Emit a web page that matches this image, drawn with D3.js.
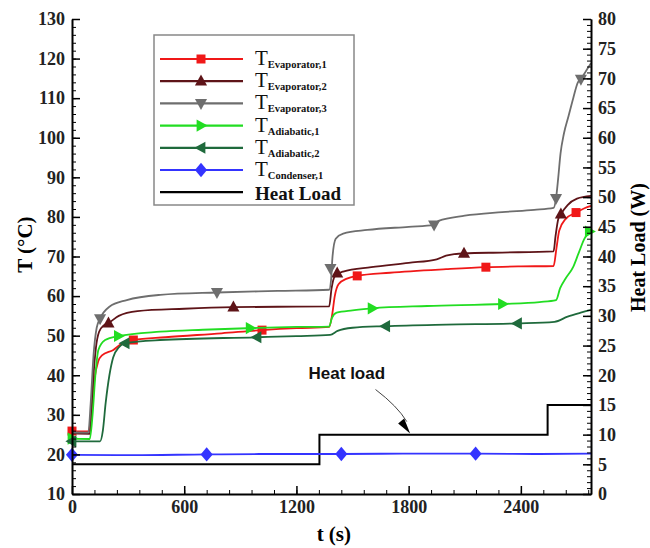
<!DOCTYPE html>
<html>
<head>
<meta charset="utf-8">
<script src="https://cdn.jsdelivr.net/npm/d3@7"></script>
<style>
  body { margin: 0; background: #fff; }
  .axis path, .axis line { stroke: #000; }
</style>
</head>
<body>
<script>
// Values: [time (s), temperature (C)]
const evap1 = [[0,25.9],[90,25.8],[105,32],[120,39],[140,43.5],[160,45],[221,46.4],[260,47.8],[293,48.6],[328,48.9],[500,49.6],[800,50.6],[1016,51.4],[1200,51.9],[1375,52.2],[1390,55],[1405,60],[1425,63],[1470,64.4],[1525,65.1],[1700,65.9],[2000,66.8],[2213,67.3],[2400,67.5],[2575,67.6],[2590,72],[2605,76.5],[2640,79.5],[2695,81.1],[2740,82.2],[2775,82.8]];
const evap2 = [[0,25.3],[95,25.2],[105,31],[115,40],[128,47],[145,51],[170,52.6],[195,53.2],[250,55],[350,56.2],[600,56.8],[863,57.2],[1100,57.3],[1375,57.4],[1388,62],[1405,65],[1450,66.2],[1600,67.3],[1800,68.4],[1950,69.3],[2000,70.2],[2096,70.8],[2300,71],[2575,71.3],[2585,75],[2600,79.5],[2614,80.7],[2650,83],[2700,84.6],[2775,85.3]];
const evap3 = [[0,25.6],[87,25.5],[100,33],[115,45],[132,52],[150,54.3],[200,57.3],[293,59],[471,60.3],[775,60.9],[1100,61.3],[1375,61.6],[1385,64],[1393,70],[1410,74.5],[1450,75.8],[1579,76.7],[1800,77.5],[1936,78],[1960,79],[2100,80.3],[2300,81.2],[2471,81.8],[2575,82.3],[2588,84.7],[2600,90],[2612,96],[2630,101],[2655,105.5],[2680,110],[2705,114],[2721,114.8],[2750,117],[2775,118.8]];
const adia1 = [[0,24],[95,23.9],[110,30],[125,40],[141,46.4],[177,48.9],[248,49.9],[471,51],[700,51.5],[953,51.9],[1200,52.2],[1375,52.3],[1390,54.5],[1415,55.8],[1500,56.4],[1605,56.9],[1900,57.5],[2302,58],[2500,58.5],[2588,59],[2610,62],[2640,64.5],[2680,67.4],[2710,71],[2740,74.5],[2766,76.3],[2775,77]];
const adia2 = [[0,23.3],[150,23.3],[165,26],[180,33],[200,40],[220,44.5],[250,47],[284,48.1],[471,48.9],[989,49.6],[1200,49.9],[1380,50.2],[1420,51.2],[1500,52],[1677,52.4],[2000,52.8],[2382,53.1],[2580,53.5],[2650,54.8],[2720,55.8],[2775,56.5]];
const cond1 = [[0,19.9],[300,19.8],[720,20],[1000,20.1],[1440,20.1],[1800,20.2],[2158,20.2],[2500,20.1],[2775,20.2]];
// heat load steps [time (s), W]
const heatLoad = [[0,5],[1323,10],[2543,15],[2775,15]];

// marker positions [time, value]
const evap1Marks = [[0,25.9],[328,48.9],[1016,51.4],[1525,65.1],[2213,67.3],[2695,81.1]];
const evap2Marks = [[195,53.2],[863,57.2],[1418,65.8],[2096,70.8],[2614,80.7]];
const evap3Marks = [[150,54.3],[775,60.9],[1382,67],[1936,78],[2588,84.7],[2721,114.8]];
const adia1Marks = [[0,24],[248,49.9],[953,51.9],[1605,56.9],[2302,58],[2766,76.3]];
const adia2Marks = [[0,23.3],[284,48.1],[989,49.6],[1677,52.4],[2382,53.1]];
const cond1Marks = [[0,19.9],[720,20],[1440,20.1],[2158,20.2]];

const xTicks = [0, 600, 1200, 1800, 2400];
const yTicks = [10, 20, 30, 40, 50, 60, 70, 80, 90, 100, 110, 120, 130];
const y2Ticks = [0, 5, 10, 15, 20, 25, 30, 35, 40, 45, 50, 55, 60, 65, 70, 75, 80];

const series = [
  { name: "Evaporator,1", data: evap1, marks: evap1Marks, color: "#f01818", sym: "square" },
  { name: "Evaporator,2", data: evap2, marks: evap2Marks, color: "#5e1418", sym: "up" },
  { name: "Evaporator,3", data: evap3, marks: evap3Marks, color: "#6e6e6e", sym: "down" },
  { name: "Adiabatic,1", data: adia1, marks: adia1Marks, color: "#22dd22", sym: "right" },
  { name: "Adiabatic,2", data: adia2, marks: adia2Marks, color: "#1f6a3c", sym: "left" },
  { name: "Condenser,1", data: cond1, marks: cond1Marks, color: "#3434ff", sym: "diamond" }
];

const SERIF = "Liberation Serif";

var margin = { top: 19, right: 59, bottom: 54, left: 72 },
    width = 650 - margin.left - margin.right,
    height = 548 - margin.top - margin.bottom;

var xScale = d3.scaleLinear().domain([0, 2775]).range([0, width]);
var yScale = d3.scaleLinear().domain([10, 130]).range([height, 0]);
var y2Scale = d3.scaleLinear().domain([0, 80]).range([height, 0]);

var svg = d3.select("body").append("svg")
    .attr("width", 650)
    .attr("height", 548);
var g = svg.append("g")
    .attr("transform", "translate(" + margin.left + "," + margin.top + ")");

// marker shapes
function markerPath(sym, s) {
  if (sym == "square") return `M${-s/2},${-s/2}h${s}v${s}h${-s}Z`;
  if (sym == "up") return `M0,${-s*0.6}L${s*0.55},${s*0.4}L${-s*0.55},${s*0.4}Z`;
  if (sym == "down") return `M0,${s*0.6}L${s*0.55},${-s*0.4}L${-s*0.55},${-s*0.4}Z`;
  if (sym == "right") return `M${s*0.6},0L${-s*0.4},${s*0.55}L${-s*0.4},${-s*0.55}Z`;
  if (sym == "left") return `M${-s*0.6},0L${s*0.4},${s*0.55}L${s*0.4},${-s*0.55}Z`;
  if (sym == "diamond") return `M0,${-s*0.65}L${s*0.55},0L0,${s*0.65}L${-s*0.55},0Z`;
}

var line = d3.line()
    .curve(d3.curveMonotoneX)
    .x(d => xScale(d[0]))
    .y(d => yScale(d[1]));

// heat load step line
var stepLine = d3.line()
    .curve(d3.curveStepAfter)
    .x(d => xScale(d[0]))
    .y(d => y2Scale(d[1]));

g.append("path")
    .datum(heatLoad)
    .attr("fill", "none")
    .attr("stroke", "#000")
    .attr("stroke-width", 2)
    .attr("d", stepLine);

series.forEach(function (s) {
  g.append("path")
      .datum(s.data)
      .attr("fill", "none")
      .attr("stroke", s.color)
      .attr("stroke-width", 1.8)
      .attr("d", line);
  g.selectAll(null)
      .data(s.marks)
      .enter()
      .append("path")
      .attr("transform", d => `translate(${xScale(d[0])},${yScale(d[1])})`)
      .attr("d", markerPath(s.sym, s.sym == "square" ? 9 : 11))
      .attr("fill", s.color);
});

// axes: ticks point into the plot
function styleAxis(sel) {
  sel.attr("font-family", SERIF).attr("font-size", 18).attr("font-weight", "bold");
  sel.select(".domain").attr("stroke-width", 2);
  sel.selectAll(".tick line").attr("stroke-width", 1.5);
  sel.selectAll(".tick text").attr("fill", "#222");
}

// minor ticks
g.append("g").attr("class", "axis")
    .attr("transform", "translate(0," + height + ")")
    .call(d3.axisBottom(xScale).tickValues(d3.range(0, 2775, 120)).tickSize(-4).tickSizeOuter(0).tickFormat(""));
g.append("g").attr("class", "axis")
    .call(d3.axisLeft(yScale).tickValues(d3.range(10, 131, 2)).tickSize(-4).tickSizeOuter(0).tickFormat(""));
g.append("g").attr("class", "axis")
    .attr("transform", "translate(" + width + ",0)")
    .call(d3.axisRight(y2Scale).tickValues(d3.range(0, 81, 1)).tickSize(-4).tickSizeOuter(0).tickFormat(""));

// major ticks
g.append("g").attr("class", "axis")
    .attr("transform", "translate(0," + height + ")")
    .call(d3.axisBottom(xScale).tickValues(xTicks).tickSize(-8).tickSizeOuter(0).tickPadding(6).tickFormat(d3.format("d")))
    .call(styleAxis);
g.append("g").attr("class", "axis")
    .call(d3.axisLeft(yScale).tickValues(yTicks).tickSize(-8).tickSizeOuter(0).tickPadding(7).tickFormat(d3.format("d")))
    .call(styleAxis);
g.append("g").attr("class", "axis")
    .attr("transform", "translate(" + width + ",0)")
    .call(d3.axisRight(y2Scale).tickValues(y2Ticks).tickSize(-8).tickSizeOuter(0).tickPadding(7).tickFormat(d3.format("d")))
    .call(styleAxis);

// axis titles
svg.append("text")
    .text("t (s)")
    .attr("x", margin.left + xScale(1400))
    .attr("y", 541)
    .attr("text-anchor", "middle")
    .attr("font-family", SERIF)
    .attr("font-weight", "bold")
    .attr("font-size", 21);

svg.append("text")
    .text("T (°C)")
    .attr("transform", "translate(32," + (margin.top + yScale(73)) + ") rotate(-90)")
    .attr("text-anchor", "middle")
    .attr("font-family", SERIF)
    .attr("font-weight", "bold")
    .attr("font-size", 21);

svg.append("text")
    .text("Heat Load (W)")
    .attr("transform", "translate(645," + (margin.top + y2Scale(41.5)) + ") rotate(-90)")
    .attr("text-anchor", "middle")
    .attr("font-family", SERIF)
    .attr("font-weight", "bold")
    .attr("font-size", 20);

// "Heat load" callout
g.append("text")
    .text("Heat load")
    .attr("x", xScale(1265))
    .attr("y", y2Scale(19.3))
    .attr("font-family", "Liberation Sans, Arial, sans-serif")
    .attr("font-weight", "bold")
    .attr("font-size", 17)
    .attr("fill", "#111");

var p = d3.path();
p.moveTo(xScale(1623), y2Scale(17.6));
p.quadraticCurveTo(xScale(1740), y2Scale(14.8), xScale(1790), y2Scale(12.2));
g.append("path")
    .attr("d", p.toString())
    .attr("fill", "none")
    .attr("stroke", "#444")
    .attr("stroke-width", 1);
var tip = [xScale(1808), y2Scale(10.2)];
g.append("path")
    .attr("d", `M${tip[0]},${tip[1]}L${tip[0] - 12},${tip[1] - 10}L${tip[0] - 6},${tip[1] - 15}Z`)
    .attr("fill", "#000");

// legend
var lg = svg.append("g").attr("transform", "translate(154,35)");
lg.append("rect")
    .attr("width", 200)
    .attr("height", 170)
    .attr("fill", "#fff")
    .attr("stroke", "#888")
    .attr("stroke-width", 1.5);

var rowH = 22.2;
series.forEach(function (s, i) {
  var y = 24 + i * rowH;
  lg.append("line")
      .attr("x1", 6).attr("x2", 89)
      .attr("y1", y).attr("y2", y)
      .attr("stroke", s.color).attr("stroke-width", 2.2);
  lg.append("path")
      .attr("transform", `translate(47,${y})`)
      .attr("d", markerPath(s.sym, s.sym == "square" ? 9 : 11))
      .attr("fill", s.color);
  var t = lg.append("text")
      .attr("x", 101)
      .attr("y", y + 6)
      .attr("font-family", SERIF)
      .attr("font-size", 21)
      .attr("fill", "#111")
      .text("T");
  t.append("tspan")
      .attr("font-size", 10.5)
      .attr("font-weight", "bold")
      .attr("dy", 3)
      .text(s.name);
});
var yHL = 24 + 6 * rowH;
lg.append("line")
    .attr("x1", 6).attr("x2", 89)
    .attr("y1", yHL).attr("y2", yHL)
    .attr("stroke", "#000").attr("stroke-width", 2.2);
lg.append("text")
    .attr("x", 101)
    .attr("y", yHL + 8)
    .attr("font-family", SERIF)
    .attr("font-weight", "bold")
    .attr("font-size", 19)
    .attr("fill", "#111")
    .text("Heat Load");
</script>
</body>
</html>
